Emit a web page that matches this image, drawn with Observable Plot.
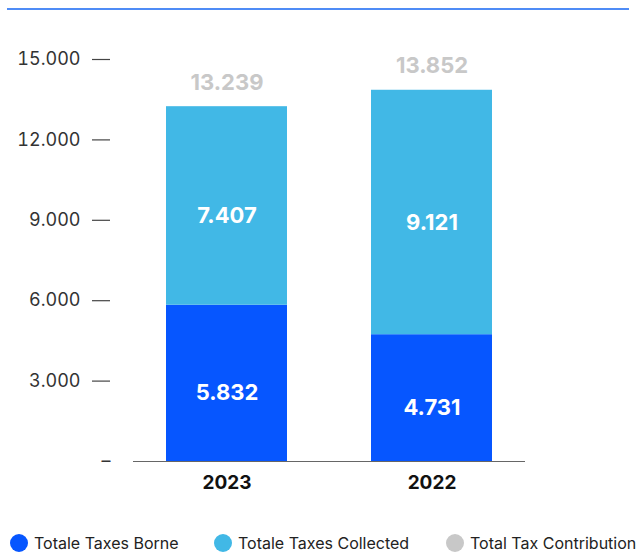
<!DOCTYPE html>
<html>
<head>
<meta charset="utf-8">
<script src="https://cdn.jsdelivr.net/npm/d3@7"></script>
<script src="https://cdn.jsdelivr.net/npm/@observablehq/plot@0.6"></script>
<style>
  html, body { margin: 0; padding: 0; background: #fff; }
  body { width: 641px; height: 554px; position: relative; overflow: hidden; font-family: Inter, "Noto Sans", sans-serif; }
  #topline { position: absolute; left: 7px; top: 8px; width: 622px; height: 2px; background: #4f8cf6; }
  #chart { position: absolute; left: 0; top: 0; }
  .leg { position: absolute; top: 533px; display: flex; align-items: center; font-size: 16px; color: #222; white-space: nowrap; }
  .leg span.dot { width: 18px; height: 18px; border-radius: 50%; display: inline-block; margin-right: 6px; }
</style>
</head>
<body>
<div id="topline"></div>
<div id="chart"></div>
<div id="legend"></div>
<script>
const years = ["2023", "2022"];
const seriesNames = ["Totale Taxes Borne", "Totale Taxes Collected", "Total Tax Contribution"];
const seriesColors = ["#0656ff", "#41b8e6", "#c8c8c8"];
const borne = [5832, 4731];
const collected = [7407, 9121];
const total = [13239, 13852];
const yTicks = [3000, 6000, 9000, 12000, 15000];

const locale = d3.formatLocale({decimal: ",", thousands: ".", grouping: [3], currency: ["", ""]});
const fmt = locale.format(",");

const rows = [];
years.forEach((y, i) => {
  rows.push({year: y, series: seriesNames[0], value: borne[i]});
  rows.push({year: y, series: seriesNames[1], value: collected[i]});
});
const totals = years.map((y, i) => ({year: y, value: total[i]}));

const plot = Plot.plot({
  width: 641,
  height: 510,
  marginTop: 59,
  marginBottom: 49,
  marginLeft: 133,
  marginRight: 116,
  style: {fontFamily: "Inter, 'Noto Sans', sans-serif", background: "transparent"},
  x: {domain: years, paddingInner: 0.41, paddingOuter: 0.161, label: null},
  y: {domain: [0, 15000], label: null},
  color: {domain: seriesNames, range: seriesColors},
  marks: [
    Plot.barY(rows, {x: "year", y: "value", fill: "series", order: seriesNames}),
    Plot.ruleY([0], {stroke: "#666", strokeWidth: 1.2}),
    Plot.axisY({ticks: yTicks, tickSize: 18, tickPadding: 12, dx: -23, tickFormat: fmt,
      fontSize: 18, fill: "#333", stroke: "#444", strokeWidth: 1.2, label: null}),
    Plot.text([0], {y: d => d, frameAnchor: "left", dx: -23, textAnchor: "end", text: () => "–",
      fontSize: 18, fill: "#333"}),
    Plot.axisX({tickSize: 0, tickPadding: 14, fontSize: 19, fontWeight: "bold", fill: "#111", label: null}),
    Plot.text(rows, Plot.stackY({x: "year", y: "value", z: "series", order: seriesNames,
      text: d => fmt(d.value), fill: "#fff", fontSize: 22, fontWeight: "bold", dy: 10})),
    Plot.text(totals, {x: "year", y: "value", text: d => fmt(d.value), dy: -24,
      fill: "#c8c8c8", fontSize: 22, fontWeight: "bold"})
  ]
});
document.getElementById("chart").appendChild(plot);

const legendLefts = [10, 214, 446];
const legend = document.getElementById("legend");
seriesNames.forEach((name, i) => {
  const item = document.createElement("div");
  item.className = "leg";
  item.style.left = legendLefts[i] + "px";
  const dot = document.createElement("span");
  dot.className = "dot";
  dot.style.background = seriesColors[i];
  const label = document.createElement("span");
  label.textContent = name;
  item.appendChild(dot);
  item.appendChild(label);
  legend.appendChild(item);
});
</script>
</body>
</html>
